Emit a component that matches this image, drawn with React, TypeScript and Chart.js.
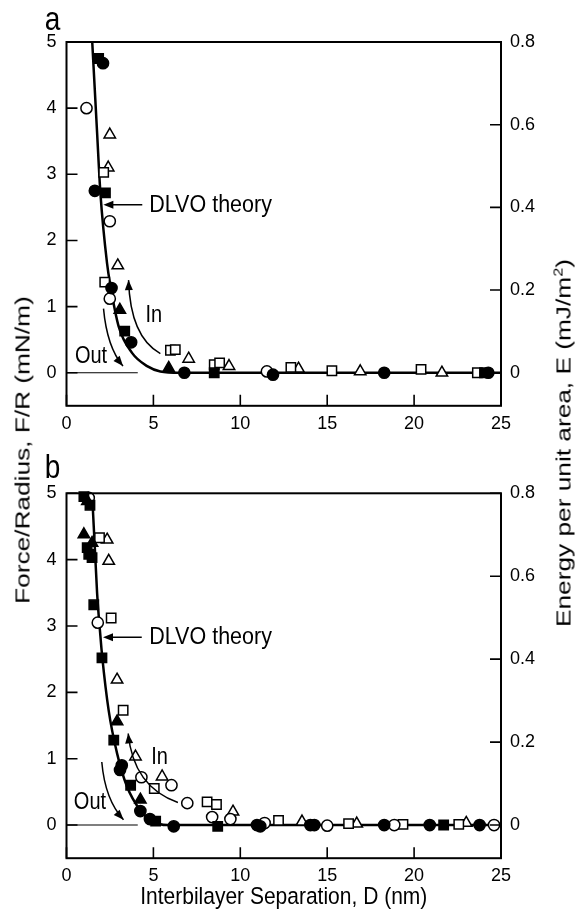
import { useEffect, useRef } from 'react';
import { Chart, registerables } from 'chart.js';

Chart.register(...registerables);

const FONT = '"Liberation Sans", Arial, Helvetica, sans-serif';

// ---- tick labels ----
const xTicks = [0, 5, 10, 15, 20, 25];
const forceTicks = [0, 1, 2, 3, 4, 5];
const energyTicks = [0, 0.2, 0.4, 0.6, 0.8];

// ---- panel a ----
const aFilledCircleD = [2.1, 1.63, 2.59, 3.72, 6.78, 11.88, 18.28, 24.27];
const aFilledCircleF = [4.68, 2.75, 1.28, 0.46, 0.0, -0.03, 0.0, 0.0];
const aFilledSquareD = [1.85, 2.24, 3.35, 8.5, 24.05];
const aFilledSquareF = [4.75, 2.72, 0.63, 0.0, 0.0];
const aOpenCircleD = [1.15, 2.49, 2.49, 11.53];
const aOpenCircleF = [4.0, 2.29, 1.12, 0.02];
const aOpenSquareD = [2.14, 2.2, 5.98, 6.26, 8.5, 8.81, 12.91, 15.27, 20.4, 23.64];
const aOpenSquareF = [3.03, 1.37, 0.34, 0.35, 0.12, 0.15, 0.08, 0.03, 0.05, 0.0];
const aFilledTriangleD = [3.07, 5.88];
const aFilledTriangleF = [0.95, 0.07];
const aOpenTriangleD = [2.49, 2.4, 2.95, 7.03, 9.35, 13.35, 16.9, 21.6];
const aOpenTriangleF = [3.6, 3.1, 1.62, 0.21, 0.1, 0.06, 0.02, 0.0];
const aTheoryD = [1.42, 1.76, 1.95, 2.33, 2.53, 3.0, 3.77, 4.64, 5.4, 6.5, 25];
const aTheoryF = [5.3, 3.63, 2.72, 1.66, 1.31, 0.7, 0.3, 0.1, 0.02, 0, 0];

// ---- panel b ----
const bFilledCircleD = [3.18, 3.08, 4.25, 4.8, 6.17, 10.96, 11.15, 14.03, 14.26, 18.28, 20.9, 23.77];
const bFilledCircleF = [0.9, 0.83, 0.21, 0.09, -0.02, 0.0, -0.02, 0.0, 0.0, 0.0, 0.0, 0.0];
const bFilledSquareD = [1.0, 1.35, 1.19, 1.28, 1.47, 1.57, 2.04, 2.72, 3.69, 5.13, 8.7, 21.7];
const bFilledSquareF = [4.95, 4.82, 4.18, 4.08, 4.03, 3.32, 2.52, 1.28, 0.6, 0.06, -0.02, 0.0];
const bOpenCircleD = [1.28, 1.8, 4.31, 6.04, 6.95, 8.38, 9.43, 11.4, 15.0, 18.86, 24.6];
const bOpenCircleF = [4.93, 3.05, 0.72, 0.6, 0.33, 0.12, 0.09, 0.03, -0.01, 0.0, 0.0];
const bOpenSquareD = [1.9, 2.57, 3.26, 5.05, 8.09, 8.63, 12.2, 16.23, 19.36, 22.57];
const bOpenSquareF = [4.33, 3.12, 1.73, 0.55, 0.35, 0.31, 0.07, 0.02, 0.01, 0.01];
const bFilledTriangleD = [1.2, 1.0, 1.47, 2.91, 4.25];
const bFilledTriangleF = [4.88, 4.38, 4.25, 1.56, 0.38];
const bOpenTriangleD = [2.34, 2.43, 2.91, 3.97, 5.5, 9.58, 13.55, 16.7, 23.0];
const bOpenTriangleF = [4.3, 3.98, 2.19, 1.03, 0.73, 0.2, 0.05, 0.02, 0.03];
const bTheoryD = [1.42, 1.76, 1.95, 2.05, 2.43, 2.91, 3.48, 4.25, 4.93, 5.8, 7, 25];
const bTheoryF = [5.3, 3.5, 2.85, 2.55, 1.72, 1.08, 0.58, 0.22, 0.06, 0, 0, 0];

// zero reference line
const zeroLineD = [0, 4.1];
const zeroLineF = [0, 0];

type Pt = [number, number];
type Annot = {
  letter: string;
  letterDy: number;
  dlvo: { head: Pt; tail: Pt; text: Pt };
  inA: { text: Pt; from: Pt; ctrl: Pt; to: Pt };
  outA: { text: Pt; from: Pt; ctrl: Pt; to: Pt };
  xTitle: boolean;
};

const annotA: Annot = {
  letter: 'a',
  letterDy: 12,
  dlvo: { head: [2.12, 2.54], tail: [4.36, 2.54], text: [4.76, 2.54] },
  inA: { text: [5.02, 0.87], from: [5.4, 0.29], ctrl: [3.67, 0.54], to: [3.57, 1.4] },
  outA: { text: [1.41, 0.24], from: [2.13, 0.97], ctrl: [2.33, 0.39], to: [3.25, 0.1] },
  xTitle: false,
};
const annotB: Annot = {
  letter: 'b',
  letterDy: 15,
  dlvo: { head: [2.1, 2.83], tail: [4.33, 2.83], text: [4.76, 2.83] },
  inA: { text: [5.35, 1.01], from: [6.41, 0.34], ctrl: [3.84, 0.58], to: [3.55, 1.38] },
  outA: { text: [1.35, 0.33], from: [2.03, 0.95], ctrl: [2.22, 0.38], to: [3.28, 0.08] },
  xTitle: true,
};

const pts = (d: number[], f: number[]) => d.map((v, i) => ({ x: v, y: f[i] }));

function markerSet(d: number[], f: number[], style: string, filled: boolean) {
  const radius = style === 'circle' ? 5.6 : style === 'rect' ? 6.6 : 6.6;
  return {
    data: pts(d, f),
    pointStyle: style,
    pointRadius: radius,
    pointBorderWidth: 1.5,
    pointBorderColor: '#000',
    pointBackgroundColor: filled ? '#000' : '#fff',
    showLine: false,
    clip: false as any,
  };
}

function drawText(ctx: CanvasRenderingContext2D, text: string, x: number, y: number, size: number, align: CanvasTextAlign, baseline: CanvasTextBaseline, sy = 1.15) {
  ctx.save();
  ctx.translate(x, y);
  ctx.scale(1, sy);
  ctx.font = `${size}px ${FONT}`;
  ctx.fillStyle = '#000';
  ctx.textAlign = align;
  ctx.textBaseline = baseline;
  ctx.fillText(text, 0, 0);
  ctx.restore();
}

function arrowHead(ctx: CanvasRenderingContext2D, tx: number, ty: number, dx: number, dy: number) {
  const len = Math.hypot(dx, dy) || 1;
  const ux = dx / len, uy = dy / len;
  const L = 10, W = 4;
  ctx.beginPath();
  ctx.moveTo(tx, ty);
  ctx.lineTo(tx - ux * L - uy * W, ty - uy * L + ux * W);
  ctx.lineTo(tx - ux * L + uy * W, ty - uy * L - ux * W);
  ctx.closePath();
  ctx.fill();
}

const TICK = 11;

const decorPlugin = {
  id: 'decor',
  afterDraw(chart: any, _args: any, opts: Annot) {
    const { ctx, chartArea: a, scales } = chart;
    const sx = scales.x, sy = scales.y, sy1 = scales.y1;
    const P = (p: Pt): Pt => [sx.getPixelForValue(p[0]), sy.getPixelForValue(p[1])];
    ctx.save();
    ctx.strokeStyle = '#000';
    ctx.fillStyle = '#000';
    ctx.lineWidth = 2;
    ctx.strokeRect(a.left, a.top, a.right - a.left, a.bottom - a.top);
    ctx.lineWidth = 1.6;
    ctx.beginPath();
    xTicks.forEach((v) => {
      const px = sx.getPixelForValue(v);
      ctx.moveTo(px, a.bottom);
      ctx.lineTo(px, a.bottom - TICK);
    });
    forceTicks.forEach((v) => {
      const py = sy.getPixelForValue(v);
      ctx.moveTo(a.left, py);
      ctx.lineTo(a.left + TICK, py);
    });
    energyTicks.forEach((v) => {
      const py = sy1.getPixelForValue(v);
      ctx.moveTo(a.right, py);
      ctx.lineTo(a.right - TICK, py);
    });
    ctx.stroke();

    // DLVO arrow
    const h = P(opts.dlvo.head), t = P(opts.dlvo.tail), tx = P(opts.dlvo.text);
    ctx.lineWidth = 1.6;
    ctx.beginPath();
    ctx.moveTo(t[0], t[1]);
    ctx.lineTo(h[0] + 4, h[1]);
    ctx.stroke();
    arrowHead(ctx, h[0], h[1], h[0] - t[0], h[1] - t[1]);
    drawText(ctx, 'DLVO theory', tx[0], tx[1], 21.5, 'left', 'middle');

    // curved arrows
    [opts.inA, opts.outA].forEach((ar, i) => {
      const f = P(ar.from), c = P(ar.ctrl), e = P(ar.to), lt = P(ar.text);
      ctx.lineWidth = 1.5;
      ctx.beginPath();
      ctx.moveTo(f[0], f[1]);
      ctx.quadraticCurveTo(c[0], c[1], e[0], e[1]);
      ctx.stroke();
      arrowHead(ctx, e[0], e[1], e[0] - c[0], e[1] - c[1]);
      drawText(ctx, i === 0 ? 'In' : 'Out', lt[0], lt[1], 20, 'center', 'middle');
    });

    // panel letter
    drawText(ctx, opts.letter, a.left - 14, a.top - opts.letterDy, 28, 'center', 'alphabetic', 1.2);

    if (opts.xTitle) {
      drawText(ctx, 'Interbilayer Separation, D (nm)', (a.left + a.right) / 2, a.bottom + 39, 21, 'center', 'middle');
    }
    ctx.restore();
  },
};

type PanelProps = {
  top: number;
  height: number;
  padTop: number;
  xAxisH: number;
  datasets: any[];
  annot: Annot;
};

function Panel({ top, height, padTop, xAxisH, datasets, annot }: PanelProps) {
  const ref = useRef<HTMLCanvasElement>(null);
  useEffect(() => {
    const tickFont = { family: FONT, size: 18 };
    const chart = new Chart(ref.current as HTMLCanvasElement, {
      type: 'scatter',
      data: { datasets },
      options: {
        animation: false,
        responsive: false,
        events: [],
        layout: { padding: { top: padTop, left: 0, right: 0, bottom: 0 } },
        plugins: {
          legend: { display: false },
          tooltip: { enabled: false },
          decor: annot,
        } as any,
        scales: {
          x: {
            type: 'linear',
            min: 0,
            max: 25,
            position: 'bottom',
            grid: { display: false, drawTicks: false },
            border: { display: false },
            ticks: { font: tickFont, color: '#000', padding: 7, maxRotation: 0 },
            afterBuildTicks: (s: any) => {
              s.ticks = xTicks.map((v) => ({ value: v }));
            },
            afterFit: (s: any) => {
              s.height = xAxisH;
            },
          },
          y: {
            type: 'linear',
            min: -0.5,
            max: 5,
            position: 'left',
            grid: { display: false, drawTicks: false },
            border: { display: false },
            ticks: { font: tickFont, color: '#000', padding: 10 },
            afterBuildTicks: (s: any) => {
              s.ticks = forceTicks.map((v) => ({ value: v }));
            },
            afterFit: (s: any) => {
              s.width = 66.5;
            },
          },
          y1: {
            type: 'linear',
            min: -0.08,
            max: 0.8,
            position: 'right',
            grid: { display: false, drawTicks: false },
            border: { display: false },
            ticks: {
              font: tickFont,
              color: '#000',
              padding: 9,
              callback: (v: any) => (Number(v) === 0 ? '0' : String(v)),
            },
            afterBuildTicks: (s: any) => {
              s.ticks = energyTicks.map((v) => ({ value: v }));
            },
            afterFit: (s: any) => {
              s.width = 75;
            },
          },
        },
      } as any,
      plugins: [decorPlugin as any],
    });
    return () => chart.destroy();
  }, []);
  return (
    <canvas
      ref={ref}
      width={576}
      height={height}
      style={{ position: 'absolute', left: 0, top, width: 576, height }}
    />
  );
}

type SetArrays = { fcD: number[]; fcF: number[]; ocD: number[]; ocF: number[]; fsD: number[]; fsF: number[]; osD: number[]; osF: number[]; ftD: number[]; ftF: number[]; otD: number[]; otF: number[]; thD: number[]; thF: number[] };

function buildDatasets(sets: SetArrays) {
  return [
    markerSet(sets.fcD, sets.fcF, 'circle', true),
    markerSet(sets.fsD, sets.fsF, 'rect', true),
    markerSet(sets.ftD, sets.ftF, 'triangle', true),
    markerSet(sets.ocD, sets.ocF, 'circle', false),
    markerSet(sets.osD, sets.osF, 'rect', false),
    markerSet(sets.otD, sets.otF, 'triangle', false),
    {
      data: pts(sets.thD, sets.thF),
      showLine: true,
      borderColor: '#000',
      borderWidth: 2.5,
      pointRadius: 0,
      cubicInterpolationMode: 'monotone',
      fill: false,
    },
    {
      data: pts(zeroLineD, zeroLineF),
      showLine: true,
      borderColor: '#000',
      borderWidth: 1.1,
      pointRadius: 0,
      fill: false,
    },
  ];
}

export default function App() {
  const dsA = buildDatasets({
    fcD: aFilledCircleD, fcF: aFilledCircleF,
    ocD: aOpenCircleD, ocF: aOpenCircleF,
    fsD: aFilledSquareD, fsF: aFilledSquareF,
    osD: aOpenSquareD, osF: aOpenSquareF,
    ftD: aFilledTriangleD, ftF: aFilledTriangleF,
    otD: aOpenTriangleD, otF: aOpenTriangleF,
    thD: aTheoryD, thF: aTheoryF,
  });
  const dsB = buildDatasets({
    fcD: bFilledCircleD, fcF: bFilledCircleF,
    ocD: bOpenCircleD, ocF: bOpenCircleF,
    fsD: bFilledSquareD, fsF: bFilledSquareF,
    osD: bOpenSquareD, osF: bOpenSquareF,
    ftD: bFilledTriangleD, ftF: bFilledTriangleF,
    otD: bOpenTriangleD, otF: bOpenTriangleF,
    thD: bTheoryD, thF: bTheoryF,
  });
  const titleStyle: any = {
    position: 'absolute',
    whiteSpace: 'nowrap',
    fontFamily: FONT,
    fontSize: 21,
    color: '#000',
    lineHeight: 1,
  };
  return (
    <div style={{ position: 'absolute', left: 0, top: 0, width: 576, height: 909, background: '#fff', overflow: 'hidden' }}>
      <Panel top={0} height={440} padTop={42} xAxisH={34.2} datasets={dsA} annot={annotA} />
      <Panel top={440} height={469} padTop={53.3} xAxisH={50.8} datasets={dsB} annot={annotB} />
      <div style={{ ...titleStyle, left: 22, top: 450, transform: 'translate(-50%, -50%) rotate(-90deg) scale(1.25, 1)' }}>
        Force/Radius, F/R (mN/m)
      </div>
      <div style={{ ...titleStyle, left: 563, top: 443, transform: 'translate(-50%, -50%) rotate(-90deg) scale(1.25, 1)' }}>
        Energy per unit area, E (mJ/m<sup style={{ fontSize: 13, verticalAlign: 'super', lineHeight: 0 }}>2</sup>)
      </div>
    </div>
  );
}
